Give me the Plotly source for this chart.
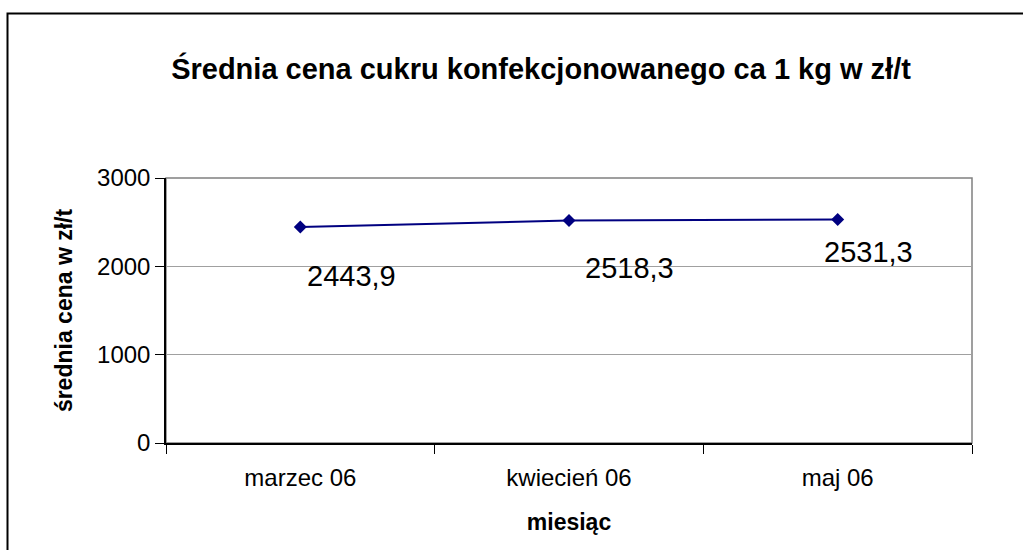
import plotly.graph_objects as go

months = ["marzec 06", "kwiecień 06", "maj 06"]
prices = [2443.9, 2518.3, 2531.3]
y_ticks = [0, 1000, 2000, 3000]

title_text = "Średnia cena cukru konfekcjonowanego ca 1 kg w zł/t"
x_title = "miesiąc"
y_title = "średnia cena w zł/t"

# label offsets in pixels (style, not data)
label_dx = [51, 60, 31]
label_dy = [-49, -47, -33]

FONT = "Arial, 'Liberation Sans', sans-serif"
W, H = 1023, 550
L, R, T, B = 166, 1023 - 972, 178, 550 - 443
pw, ph = W - L - R, H - T - B

fig = go.Figure()
fig.add_trace(go.Scatter(
    x=months, y=prices, mode="lines+markers",
    line=dict(color="#000080", width=2),
    marker=dict(symbol="diamond", size=10, color="#000080"),
    showlegend=False, hoverinfo="x+y",
))

annotations = []
for m, p, dx, dy in zip(months, prices, label_dx, label_dy):
    annotations.append(dict(
        x=m, y=p, xref="x", yref="y", showarrow=False,
        text=f"{p:.1f}".replace(".", ","),
        xshift=dx, yshift=dy,
        font=dict(family=FONT, size=29, color="black"),
    ))

shapes = [
    # plot area border (gray)
    dict(type="rect", xref="paper", yref="paper", x0=0, x1=1, y0=0, y1=1,
         line=dict(color="#808080", width=1.5), layer="below"),
    # outer chart border (black)
    dict(type="rect", xref="paper", yref="paper",
         x0=(7.5 - L) / pw, x1=(1040 - L) / pw,
         y0=(H - B - 570) / ph, y1=(H - B - 13.5) / ph,
         line=dict(color="black", width=2), layer="above"),
]

fig.update_layout(
    width=W, height=H,
    margin=dict(l=L, r=R, t=T, b=B),
    paper_bgcolor="white", plot_bgcolor="white",
    title=dict(text=f"<b>{title_text}</b>", x=541 / W, xanchor="center",
               xref="container",
               y=1 - 69 / H, yanchor="middle",
               font=dict(family=FONT, size=29, color="black")),
    annotations=annotations,
    shapes=shapes,
    xaxis=dict(
        type="category", range=[-0.5, 2.5],
        showline=True, linecolor="black", linewidth=1.5,
        ticks="outside", tickson="boundaries", ticklen=9, tickcolor="black",
        ticklabelstandoff=12,
        tickfont=dict(family=FONT, size=24, color="black"),
        showgrid=False, zeroline=False,
        title=dict(text=f"<b>{x_title}</b>", standoff=24,
                   font=dict(family=FONT, size=23, color="black")),
        fixedrange=True,
    ),
    yaxis=dict(
        range=[0, 3000], tickvals=y_ticks,
        showline=True, linecolor="black", linewidth=1.5,
        ticks="outside", ticklen=9, tickcolor="black",
        tickfont=dict(family=FONT, size=24, color="black"),
        showgrid=True, gridcolor="#a0a0a0", gridwidth=1,
        zeroline=False,
        title=dict(text=f"<b>{y_title}</b>", standoff=18,
                   font=dict(family=FONT, size=23, color="black")),
        fixedrange=True,
    ),
)

fig.write_html(
    "out.html",
    config={"displayModeBar": False},
    post_script="document.body.style.margin='0';document.body.style.overflow='hidden';",
)
